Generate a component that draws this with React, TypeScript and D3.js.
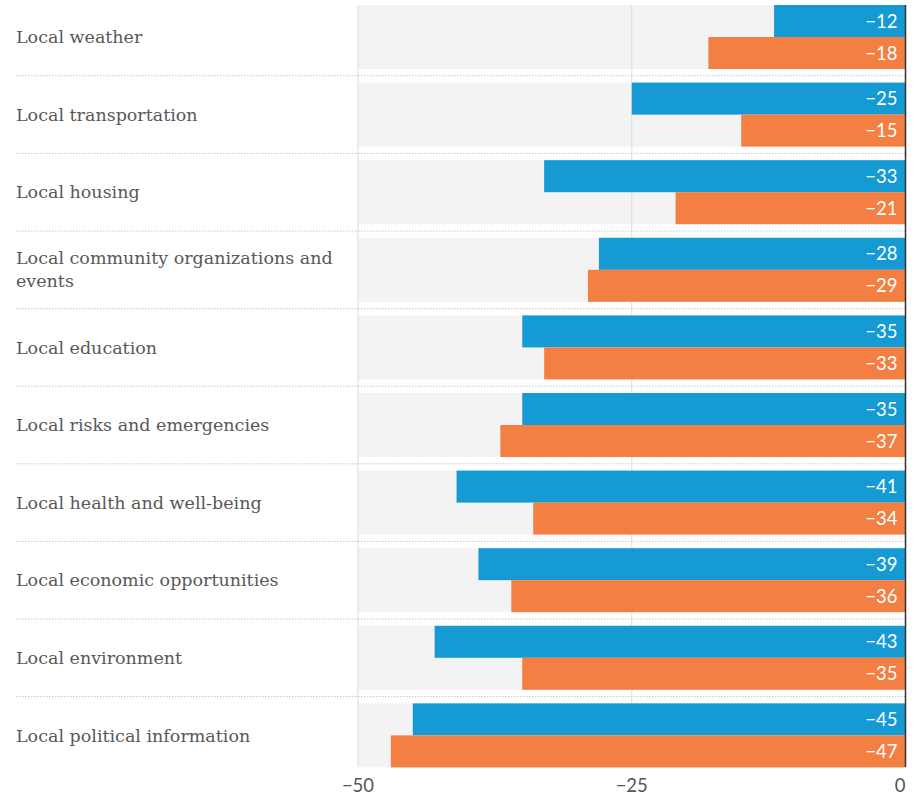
import React from "react";
import * as d3 from "d3";

const categories: string[][] = [
  ["Local weather"],
  ["Local transportation"],
  ["Local housing"],
  ["Local community organizations and", "events"],
  ["Local education"],
  ["Local risks and emergencies"],
  ["Local health and well-being"],
  ["Local economic opportunities"],
  ["Local environment"],
  ["Local political information"],
];
const blueValues = [-12, -25, -33, -28, -35, -35, -41, -39, -43, -45];
const orangeValues = [-18, -15, -21, -29, -33, -37, -34, -36, -35, -47];
const tickValues = [-50, -25, 0];

const W = 917;
const H = 795;
const BLUE = "#159ad4";
const ORANGE = "#f37f43";

export default function App() {
  const keys = categories.map((c) => c.join(" "));
  const x = d3.scaleLinear().domain([-50, 0]).range([358, 905.5]);
  const y = d3
    .scaleBand<string>()
    .domain(keys)
    .range([5, 767.4])
    .paddingInner(0.175)
    .paddingOuter(0);
  const bw = y.bandwidth();
  const half = bw / 2;
  const step = y.step();
  const fmt = (v: number) => (v < 0 ? "\u2212" + Math.abs(v) : String(v));

  return (
    <svg width={W} height={H} style={{ position: "absolute", left: 0, top: 0 }}>
      <rect x={0} y={0} width={W} height={H} fill="#ffffff" />
      {/* background bands */}
      {keys.map((k) => (
        <rect key={"bg" + k} x={x(-50)} y={y(k)!} width={x(0) - x(-50)} height={bw} fill="#f3f3f3" />
      ))}
      {/* gridlines */}
      {tickValues
        .filter((t) => t !== 0)
        .map((t) => (
          <line key={"g" + t} x1={x(t)} x2={x(t)} y1={5} y2={767} stroke="#e2e2e2" strokeWidth={1.2} />
        ))}
      {/* separators */}
      {keys.slice(0, -1).map((k) => {
        const sy = y(k)! + bw + (step - bw) / 2;
        return (
          <line
            key={"s" + k}
            x1={16}
            x2={x(0)}
            y1={sy}
            y2={sy}
            stroke="#c8c8c8"
            strokeWidth={1}
            strokeDasharray="1.5 1.5"
          />
        );
      })}
      {/* bars */}
      {keys.map((k, i) => (
        <g key={"b" + k}>
          <rect x={x(blueValues[i])} y={y(k)!} width={x(0) - x(blueValues[i])} height={half} fill={BLUE} />
          <rect x={x(orangeValues[i])} y={y(k)! + half} width={x(0) - x(orangeValues[i])} height={half} fill={ORANGE} />
          <text
            x={x(0) - 8}
            y={y(k)! + half / 2}
            dy="0.36em"
            textAnchor="end"
            fill="#ffffff"
            fontFamily="Lato, sans-serif"
            fontSize={18.5}
          >
            {fmt(blueValues[i])}
          </text>
          <text
            x={x(0) - 8}
            y={y(k)! + half * 1.5}
            dy="0.36em"
            textAnchor="end"
            fill="#ffffff"
            fontFamily="Lato, sans-serif"
            fontSize={18.5}
          >
            {fmt(orangeValues[i])}
          </text>
        </g>
      ))}
      {/* zero line */}
      <line x1={x(0)} x2={x(0)} y1={5} y2={767} stroke="#333333" strokeWidth={1.5} />
      {/* category labels */}
      {categories.map((lines, i) => {
        const cy = y(keys[i])! + half;
        const lh = 23;
        const y0 = cy - ((lines.length - 1) * lh) / 2;
        return (
          <text
            key={"l" + keys[i]}
            fill="#585858"
            fontFamily="'DejaVu Serif', serif"
            fontSize={17.5}
          >
            {lines.map((ln, j) => (
              <tspan key={j} x={16} y={y0 + j * lh} dy="0.35em">
                {ln}
              </tspan>
            ))}
          </text>
        );
      })}
      {/* axis ticks */}
      {tickValues.map((t) => (
        <text
          key={"t" + t}
          x={x(t)}
          y={785}
          dy="0.36em"
          textAnchor={t === 0 ? "end" : "middle"}
          fill="#555555"
          fontFamily="Lato, sans-serif"
          fontSize={18.5}
        >
          {fmt(t)}
        </text>
      ))}
    </svg>
  );
}
